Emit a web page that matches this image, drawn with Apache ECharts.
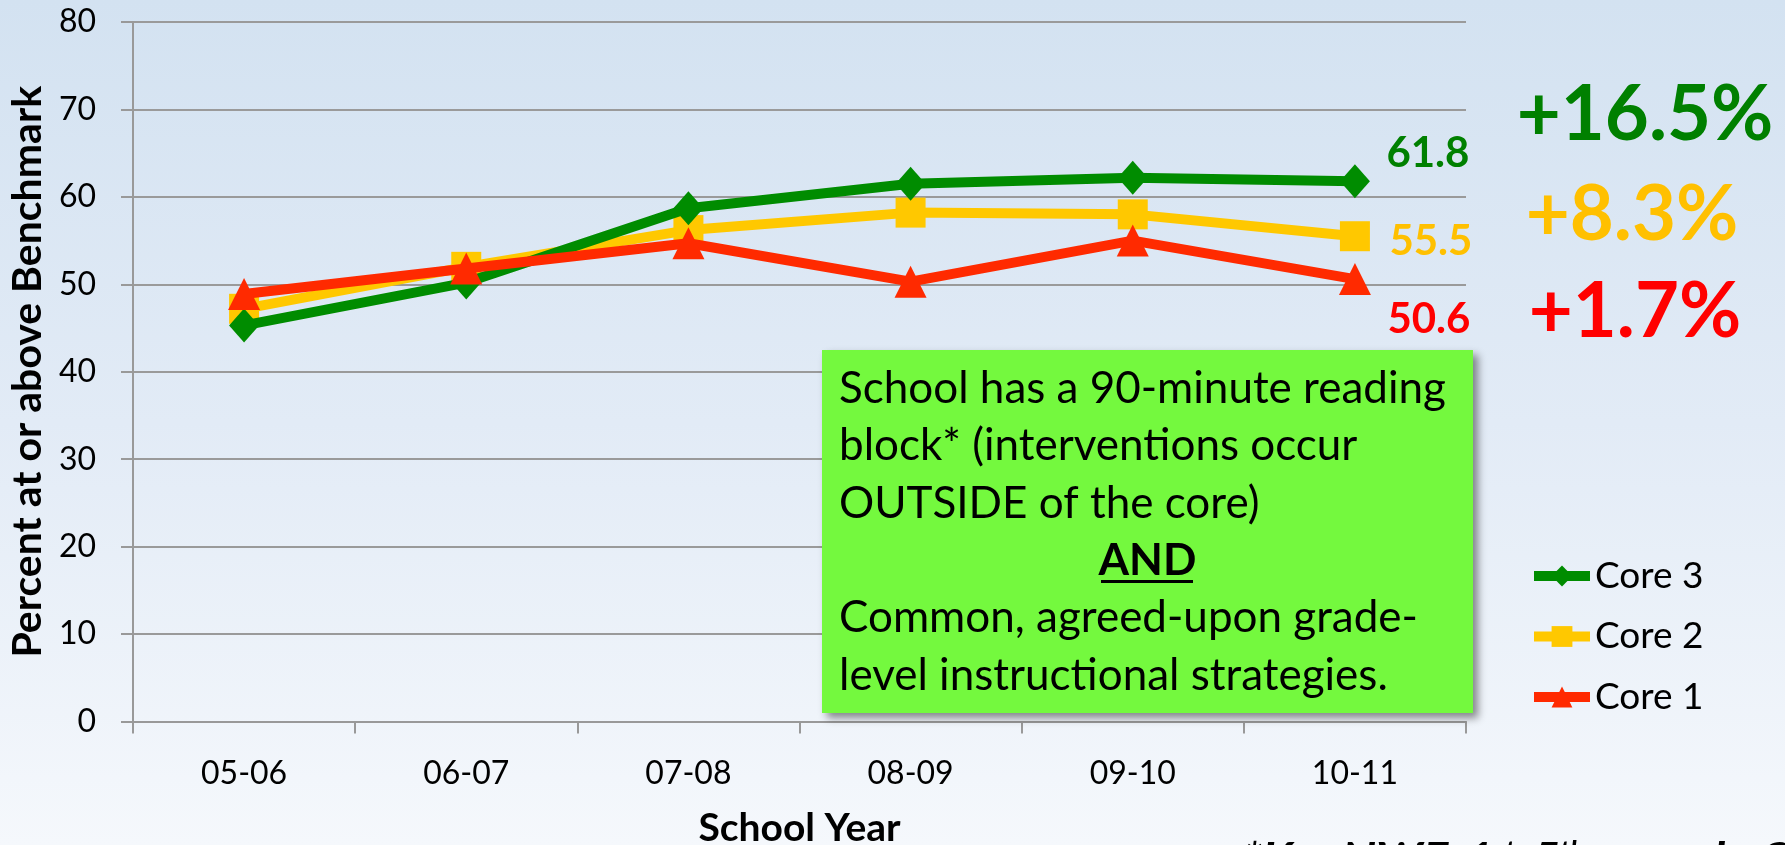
<!DOCTYPE html>
<html>
<head>
<meta charset="utf-8">
<script src="https://cdn.jsdelivr.net/npm/echarts@6/dist/echarts.min.js"></script>
<style>
  html, body { margin: 0; padding: 0; width: 1785px; height: 845px; overflow: hidden;
    background: linear-gradient(to bottom, #d3e2f1 0%, #e2ebf6 50%, #f5f8fc 100%); }
  #chart { width: 1785px; height: 845px; }
</style>
</head>
<body>
<div id="chart"></div>
<script>
const categories = ['05-06', '06-07', '07-08', '08-09', '09-10', '10-11'];
const core3 = [45.3, 50.2, 58.7, 61.5, 62.2, 61.8];
const core2 = [47.2, 52.0, 56.2, 58.2, 58.0, 55.5];
const core1 = [48.9, 51.8, 54.7, 50.3, 55.0, 50.6];
const seriesNames = ['Core 3', 'Core 2', 'Core 1'];
const gainLabels = ['+16.5%', '+8.3%', '+1.7%'];
const yTicks = [0, 10, 20, 30, 40, 50, 60, 70, 80];
const noteLines = [
  'School has a 90-minute reading',
  'block* (interventions occur',
  'OUTSIDE of the core)',
  'AND',
  'Common, agreed-upon grade-',
  'level instructional strategies.'
];
const footnoteParts = ['*K – NWF, 1', 'st', '-5', 'th', ' – grade ORF'];

const FONT = 'Lato, "Open Sans", sans-serif';
const GREEN = '#008c00', YELLOW = '#ffc800', RED = '#ff2a00';

const chart = echarts.init(document.getElementById('chart'), null, { renderer: 'canvas' });

function lastLabel(color, offset) {
  return {
    show: true,
    position: 'inside',
    offset: offset,
    color: color,
    fontFamily: FONT,
    fontWeight: 'bold',
    fontSize: 42,
    formatter: p => p.dataIndex === categories.length - 1 ? String(p.value) : ''
  };
}

// note box graphics
const boxX = 822, boxY = 350, boxW = 651, boxH = 363;
const noteGraphics = [{
  type: 'rect', z: 100,
  shape: { x: boxX, y: boxY, width: boxW, height: boxH },
  style: { fill: '#74f93e', shadowBlur: 8, shadowOffsetX: 5, shadowOffsetY: 5, shadowColor: 'rgba(0,0,0,0.45)' }
}];
noteLines.forEach((t, i) => {
  const isAnd = t === 'AND';
  noteGraphics.push({
    type: 'text', z: 101,
    x: isAnd ? boxX + boxW / 2 : 839,
    y: 389 + 57.3 * i,
    style: {
      text: t, fill: '#000', font: (isAnd ? 'bold ' : '') + '44px ' + FONT,
      textAlign: isAnd ? 'center' : 'left', textVerticalAlign: 'middle'
    }
  });
});
noteGraphics.push({
  type: 'rect', z: 101,
  shape: { x: 1101, y: 580, width: 92, height: 3 },
  style: { fill: '#000' }
});

const gainColors = ['#008000', '#ffc000', '#ff0000'];
const gainPos = [[1645, 115], [1632, 215], [1635, 312]];
const gainGraphics = gainLabels.map((t, i) => ({
  type: 'text', z: 50,
  x: gainPos[i][0], y: gainPos[i][1],
  style: { text: t, fill: gainColors[i], font: 'bold 76px ' + FONT, textAlign: 'center', textVerticalAlign: 'middle' }
}));

const footGraphic = {
  type: 'text', z: 50, x: 1243, y: 862,
  style: {
    text: footnoteParts.map((p, i) => (i % 2 === 0 ? '{a|' : '{s|') + p + '}').join(''),
    textAlign: 'left', textVerticalAlign: 'middle',
    rich: {
      a: { fill: '#000', fontFamily: FONT, fontStyle: 'italic', fontWeight: 'bold', fontSize: 48 },
      s: { fill: '#000', fontFamily: FONT, fontStyle: 'italic', fontWeight: 'bold', fontSize: 28, verticalAlign: 'top' }
    }
  }
};

const option = {
  backgroundColor: 'transparent',
  animation: false,
  textStyle: { fontFamily: FONT },
  grid: { left: 133, right: 319, top: 22, bottom: 123.5, containLabel: false, outerBoundsMode: 'none' },
  legend: {
    orient: 'vertical',
    left: 1524, top: 551,
    data: seriesNames,
    itemWidth: 56, itemHeight: 26, itemGap: 20.5,
    lineStyle: { width: 10 },
    textStyle: { fontFamily: FONT, fontSize: 37, color: '#000', lineHeight: 40 }
  },
  xAxis: {
    type: 'category',
    data: categories,
    boundaryGap: true,
    name: 'School Year',
    nameLocation: 'middle',
    nameGap: 87,
    nameTextStyle: { fontFamily: FONT, fontWeight: 'bold', fontSize: 39, color: '#000' },
    axisLine: { show: true, lineStyle: { color: '#999', width: 2 } },
    axisTick: { show: true, length: 12, lineStyle: { color: '#999', width: 2 } },
    axisLabel: { fontFamily: FONT, fontSize: 32, color: '#000', margin: 36 },
    splitLine: { show: false }
  },
  yAxis: {
    type: 'value',
    min: yTicks[0], max: yTicks[yTicks.length - 1], interval: 10,
    name: 'Percent at or above Benchmark',
    nameLocation: 'middle',
    nameGap: 84,
    nameTextStyle: { fontFamily: FONT, fontWeight: 'bold', fontSize: 41, color: '#000' },
    axisLine: { show: true, lineStyle: { color: '#999', width: 2 } },
    axisTick: { show: true, length: 12, lineStyle: { color: '#999', width: 2 } },
    axisLabel: { fontFamily: FONT, fontSize: 32, color: '#000', margin: 37 },
    splitLine: { show: true, lineStyle: { color: '#9a9a9a', width: 2 } }
  },
  series: [
    {
      name: seriesNames[0], type: 'line', data: core3, z: 5,
      symbol: 'diamond', symbolSize: [30, 34],
      itemStyle: { color: GREEN }, lineStyle: { color: GREEN, width: 10 },
      label: lastLabel('#008000', [73, -28])
    },
    {
      name: seriesNames[1], type: 'line', data: core2, z: 4,
      symbol: 'rect', symbolSize: 30,
      itemStyle: { color: YELLOW }, lineStyle: { color: YELLOW, width: 10 },
      label: lastLabel('#ffc000', [76, 5])
    },
    {
      name: seriesNames[2], type: 'line', data: core1, z: 6,
      symbol: 'triangle', symbolSize: 32,
      itemStyle: { color: RED }, lineStyle: { color: RED, width: 10 },
      label: lastLabel('#ff0000', [74, 40])
    }
  ],
  graphic: noteGraphics.concat(gainGraphics, [footGraphic])
};
chart.setOption(option);
</script>
</body>
</html>
